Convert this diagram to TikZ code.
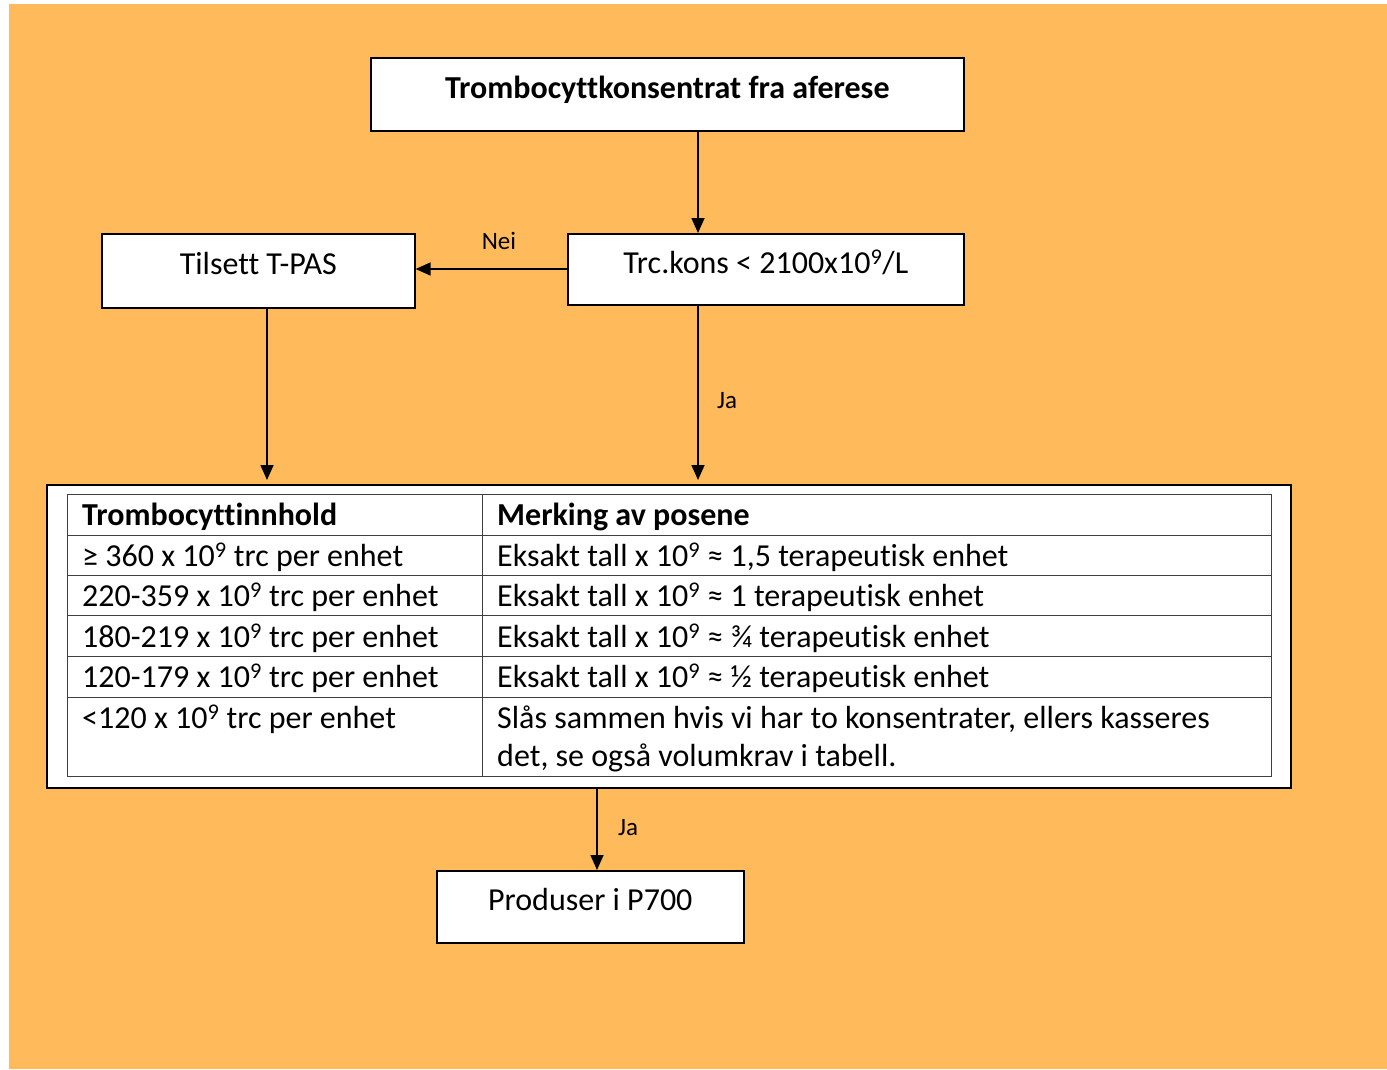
\documentclass[tikz,border=0pt]{standalone}
\usepackage{fontspec}
\setmainfont{Carlito}[Ligatures=CommonOff]
\usetikzlibrary{arrows.meta}
\definecolor{bgorange}{HTML}{FFBA5C}
\definecolor{gridgray}{HTML}{404040}
\newcommand{\tn}{10\textsuperscript{9}}
\begin{document}
\begin{tikzpicture}[x=1pt,y=-1pt,
  every node/.style={font=\fontsize{32}{39}\selectfont, inner sep=0pt},
  box/.style={draw=black, line width=1.6pt, fill=white, anchor=north west, align=center, text height=23pt, text depth=15pt},
  arr/.style={line width=1.6pt, -{Triangle[length=15pt,width=13pt]}},
  lbl/.style={font=\fontsize{25}{30}\selectfont},
  cell/.style={anchor=west}
]
\useasboundingbox (0,0) rectangle (1387,1069);
\fill[white] (0,0) rectangle (1387,1069);
\fill[bgorange] (9,4) rectangle (1387,1069);

% boxes
\node[box, minimum width=593pt, minimum height=73pt] (top) at (370,57) {\textbf{Trombocyttkonsentrat fra aferese}};
\node[box, minimum width=396pt, minimum height=71pt] (trc) at (567,233) {Trc.kons < 2100x\tn/L};
\node[box, minimum width=313pt, minimum height=74pt] (tpas) at (101,233) {Tilsett T-PAS};
\node[draw=black, line width=1.6pt, fill=white, anchor=north west, minimum width=1244pt, minimum height=303pt] (tab) at (46,484) {};
\node[box, minimum width=307pt, minimum height=72pt] (prod) at (436,870) {Produser i P700};

% inner table
\draw[gridgray, line width=1pt] (67,494) rectangle (1271,776);
\draw[gridgray, line width=1pt] (482,494) -- (482,776);
\foreach \yy in {535,575,615,656,697} \draw[gridgray, line width=1pt] (67,\yy) -- (1271,\yy);

\node[cell] (h1) at (82,517) {\textbf{Trombocyttinnhold}};
\node[cell] (h2) at (497,517) {\textbf{Merking av posene}};
\node[cell] (a1) at (82,557) {≥ 360 x \tn{} trc per enhet};
\node[cell] (b1) at (497,557) {Eksakt tall x \tn{} ≈ 1,5 terapeutisk enhet};
\node[cell] (a2) at (82,597) {220-359 x \tn{} trc per enhet};
\node[cell] (b2) at (497,597) {Eksakt tall x \tn{} ≈ 1 terapeutisk enhet};
\node[cell] (a3) at (82,638) {180-219 x \tn{} trc per enhet};
\node[cell] (b3) at (497,638) {Eksakt tall x \tn{} ≈ ¾ terapeutisk enhet};
\node[cell] (a4) at (82,678) {120-179 x \tn{} trc per enhet};
\node[cell] (b4) at (497,678) {Eksakt tall x \tn{} ≈ ½ terapeutisk enhet};
\node[cell] (a5) at (82,719) {<120 x \tn{} trc per enhet};
\node[cell] (b5) at (497,719) {Slås sammen hvis vi har to konsentrater, ellers kasseres};
\node[cell] (b6) at (497,758) {det, se også volumkrav i tabell.};

% connectors
\coordinate (tabL) at (267,480);
\coordinate (tabR) at (698,480);
\draw[arr] (top.south -| tabR) -- (trc.north -| tabR);
\draw[arr] (trc.west |- 0,269) -- (tpas.east |- 0,269);
\draw[arr] (tpas.south -| tabL) -- (tabL);
\draw[arr] (trc.south -| tabR) -- (tabR);
\draw[arr] (tab.south -| 597,0) -- (prod.north -| 597,0);

\node[lbl] (nei) at (499,241) {Nei};
\node[lbl] (ja1) at (727,401) {Ja};
\node[lbl] (ja2) at (628,828) {Ja};
\end{tikzpicture}
\end{document}
